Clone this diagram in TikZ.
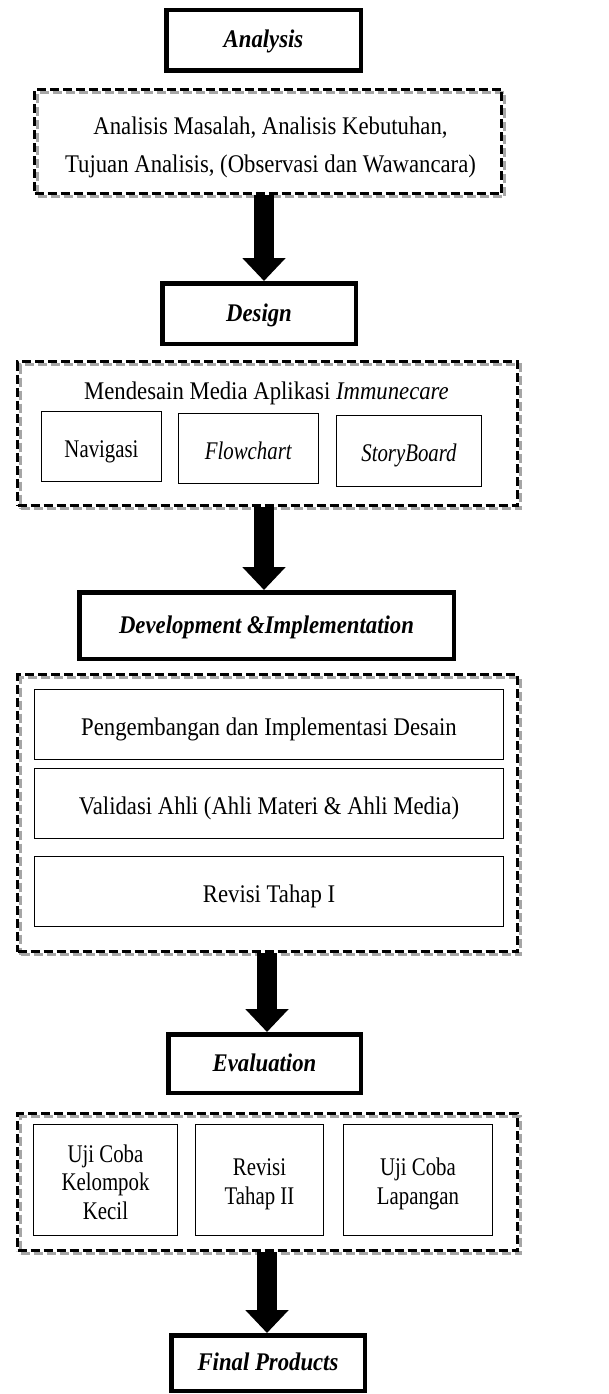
\documentclass[tikz,border=0pt]{standalone}
\usepackage{fontspec}
\setmainfont{Liberation Serif}[FakeStretch=0.895]
\newfontfamily\narrowserif{Liberation Serif}[FakeStretch=0.82]
\usetikzlibrary{arrows.meta,shadows}
\newcommand{\liftline}[1]{\rule{0pt}{#1}}
\begin{document}
\begin{tikzpicture}[x=1pt,y=-1pt,
  txt/.style={font=\fontsize{25.4}{28.5}\selectfont, inner sep=0pt, align=center},
  small/.style={font=\narrowserif\fontsize{25.4}{28.5}\selectfont},
  oneline/.style={text height=18pt, text depth=3pt},
  lowline/.style={text height=22pt, text depth=0.5pt},
  phase/.style={txt, oneline, draw, line width=4.5pt, font=\fontsize{25.4}{28.5}\selectfont\bfseries\itshape},
  group/.style={draw, line width=3pt, dash pattern=on 9pt off 4pt,
    general shadow={draw=gray!70, fill=none, line width=3pt, dash pattern=on 9pt off 4pt,
      shadow xshift=3pt, shadow yshift=-3pt}},
  item/.style={txt, draw, line width=0.8pt},
  flow/.style={line width=20pt, -{Triangle[width=42pt,length=23pt]}}
]
\useasboundingbox (0,0) rectangle (609,1394);

% Analysis
\node[phase, minimum width=194.5pt, minimum height=60.5pt] (analysis) at (263.5,40.5) {Analysis};
\node[group, minimum width=467pt, minimum height=104pt] (g1) at (268,141.5) {};
\node[txt, font=\fontsize{25.4}{38}\selectfont] (t1) at (270.5,147)
  {Analisis Masalah, Analisis Kebutuhan,\\Tujuan Analisis, (Observasi dan Wawancara)};

% Design
\node[phase, minimum width=193.5pt, minimum height=60.5pt] (design) at (259,313.5) {Design};
\node[group, minimum width=500pt, minimum height=144pt] (g2) at (267.5,433.5) {};
\node[txt, oneline] (t2) at (266.5,391.5) {Mendesain Media Aplikasi \textit{Immunecare}};
\node[item, small, lowline, minimum width=120pt, minimum height=70pt] (nav) at (101.5,446.5) {Navigasi};
\node[item, small, lowline, minimum width=140pt, minimum height=70pt] (flowc) at (248.5,448.5) {\textit{Flowchart}};
\node[item, small, lowline, minimum width=145pt, minimum height=71pt] (story) at (409,451) {\textit{StoryBoard}};

% Development
\node[phase, minimum width=374.5pt, minimum height=66.5pt] (dev) at (266.5,625.5) {Development \&Implementation};
\node[group, minimum width=500pt, minimum height=277pt] (g3) at (267.5,813) {};
\node[item, lowline, minimum width=469pt, minimum height=70pt] (d1) at (269,724.5) {Pengembangan dan Implementasi Desain};
\node[item, lowline, minimum width=469pt, minimum height=70pt] (d2) at (269,803.5) {Validasi Ahli (Ahli Materi \& Ahli Media)};
\node[item, lowline, minimum width=469pt, minimum height=70pt] (d3) at (269,891.5) {Revisi Tahap I};

% Evaluation
\node[phase, minimum width=192.5pt, minimum height=58.5pt] (eval) at (264.5,1063.5) {Evaluation};
\node[group, minimum width=500pt, minimum height=137pt] (g4) at (267.5,1182) {};
\node[item, small, minimum width=144pt, minimum height=111pt] (e1) at (105.5,1180) {\liftline{21.3pt}Uji Coba\\Kelompok\\Kecil};
\node[item, small, minimum width=128pt, minimum height=111pt] (e2) at (259.5,1180) {\liftline{25.3pt}Revisi\\Tahap II};
\node[item, small, minimum width=149pt, minimum height=111pt] (e3) at (418,1180) {\liftline{25.3pt}Uji Coba\\Lapangan};

% Final
\node[phase, minimum width=193.5pt, minimum height=55.5pt] (final) at (268,1363) {Final Products};

% Arrows
\coordinate (ax1) at (264,0);
\coordinate (ax2) at (267,0);
\draw[flow] (g1.south -| ax1) -- (design.north -| ax1);
\draw[flow] (g2.south -| ax1) -- (dev.north -| ax1);
\draw[flow] (g3.south -| ax2) -- (eval.north -| ax2);
\draw[flow] (g4.south -| ax2) -- (final.north -| ax2);
\end{tikzpicture}
\end{document}
